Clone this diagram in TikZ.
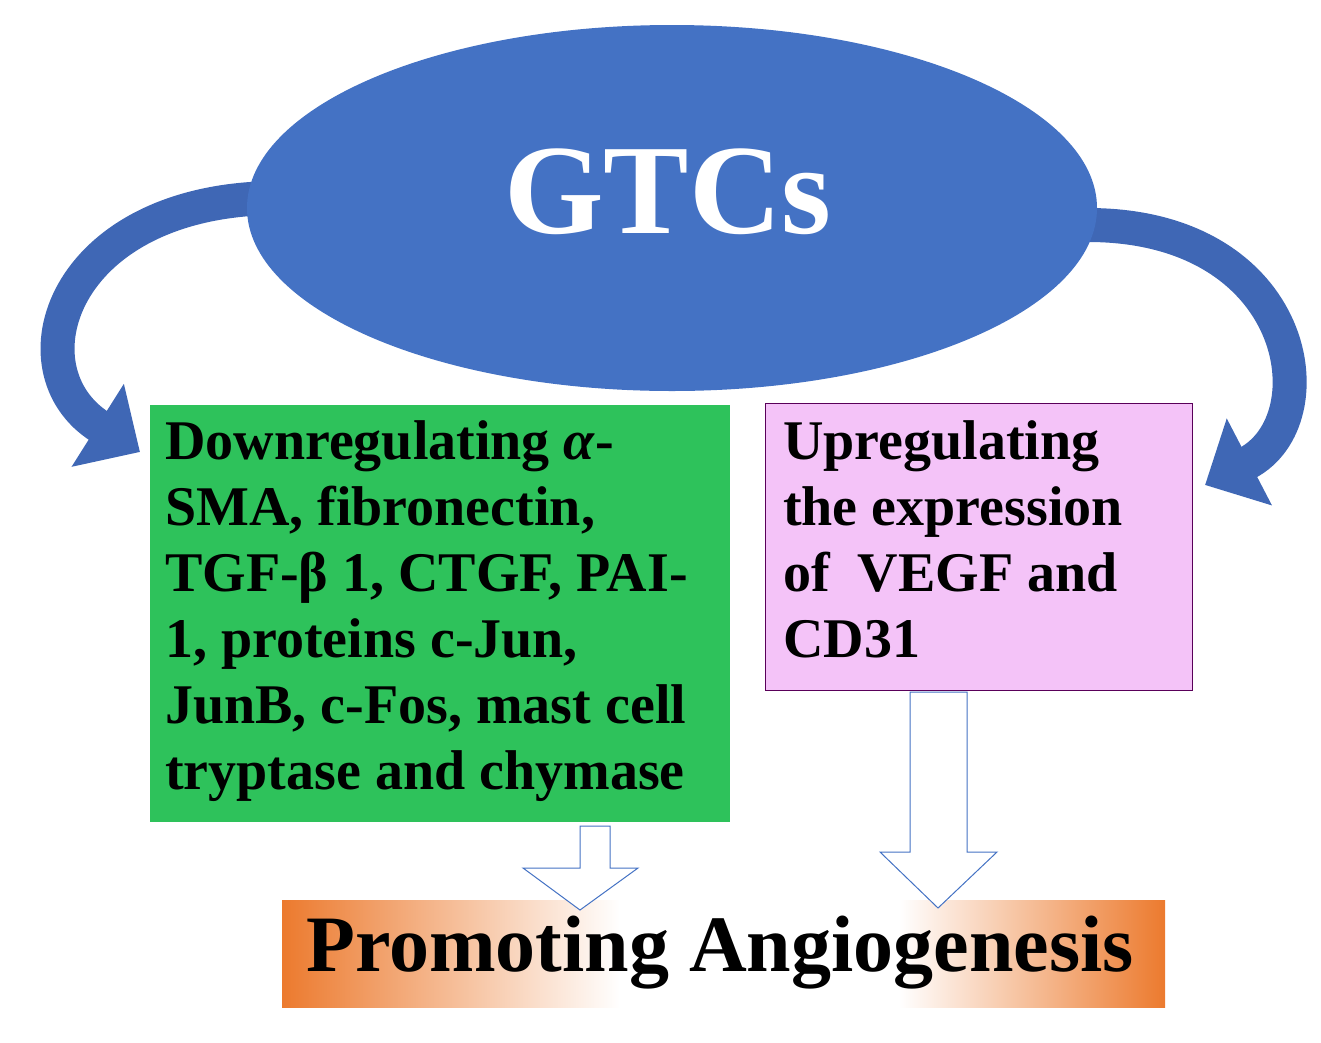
\documentclass[tikz,border=0pt]{standalone}
\usepackage{fontspec}
\setmainfont{Liberation Serif}
\usetikzlibrary{arrows.meta,shapes.geometric}
\definecolor{gblue}{HTML}{4472C4}
\definecolor{dblue}{HTML}{3F67B5}
\definecolor{ggreen}{HTML}{2EC25B}
\definecolor{gpink}{HTML}{F4C3F8}
\definecolor{gorange}{HTML}{EC7A2E}
\tikzset{
 box/.style={draw=none,anchor=north west,align=left,inner sep=0pt,font=\fontsize{56}{66}\selectfont\bfseries},
 curv/.style={draw=dblue,line width=34pt,-{Triangle[width=95pt,length=50pt]}},
 hollow/.style={draw=gblue,fill=white,line width=1pt,line join=miter}
}
\begin{document}
\begin{tikzpicture}[x=1pt,y=-1pt]
\useasboundingbox (0,0) rectangle (1321,1042);
% curved arrows
\draw[curv] (275,198) .. controls (60,200) and (10,370) .. (140,452);
\draw[curv] (1088,225) .. controls (1300,225) and (1330,420) .. (1205,485);
% ellipse
\node[ellipse,fill=gblue,minimum width=850pt,minimum height=366pt,inner sep=0pt] (gtc) at (672,208) {};
\node[font=\fontsize{128}{128}\selectfont\bfseries,text=white] (gtct) at (668,192) {GTCs};
% green box
\fill[ggreen] (150,405) rectangle (730,822);
\node[box] (down) at (165,420) {Downregulating \textit{α}-\\SMA, fibronectin,\\TGF-β 1, CTGF, PAI-\\1, proteins c-Jun,\\JunB, c-Fos, mast cell\\tryptase and chymase};
% pink box
\draw[fill=gpink,draw=violet!70!black] (765,403) rectangle (1192,690);
\node[box] (up) at (783,420) {Upregulating\\the expression\\of~ VEGF and\\CD31};
% bottom box
\shade[left color=gorange,right color=white] (282,900) rectangle (620,1007);
\fill[white] (619,900) rectangle (900,1007);
\shade[left color=white,right color=gorange] (899,900) rectangle (1165,1007);
\node[font=\fontsize{80}{80}\selectfont\bfseries] (prom) at (720,953) {Promoting Angiogenesis};
% hollow arrows
\draw[hollow] (580,826) -- (610,826) -- (610,868) -- (638,868) -- (580,910) -- (523,868) -- (580,868) -- cycle;
\draw[hollow] (910,692) -- (967,692) -- (967,852) -- (997,852) -- (938,908) -- (880,852) -- (910,852) -- cycle;
\end{tikzpicture}
\end{document}
